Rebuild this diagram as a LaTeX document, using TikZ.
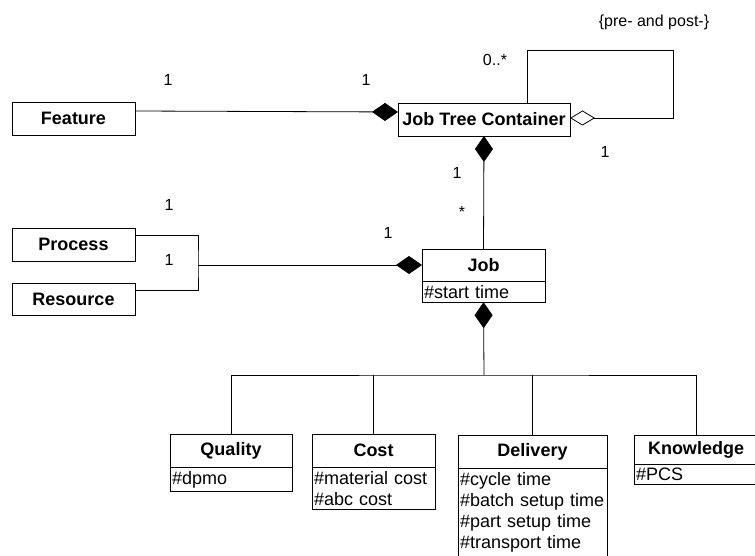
\documentclass[tikz,border=0pt]{standalone}
\usepackage{fontspec}
\setmainfont{Liberation Sans}
\usetikzlibrary{arrows.meta,positioning}

\begin{document}
\begin{tikzpicture}[x=1pt, y=-1pt, line width=0.8pt,
  every node/.style={inner sep=0pt, outer sep=0pt},
  cls/.style={draw, font=\bfseries\fontsize{18}{21}\selectfont, minimum height=33pt},
  attr/.style={draw, font=\fontsize{18}{21}\selectfont, align=left, inner xsep=2pt, inner ysep=4pt},
  mult/.style={font=\fontsize{16}{19}\selectfont},
  comp/.style={{Diamond[length=26pt, width=18pt]}-},
  aggr/.style={{Diamond[open, length=25pt, width=15pt]}-}]
  \useasboundingbox (0,0) rectangle (755,556);

  % classes
  \node[cls, minimum width=123pt] (feature) at (73.5,118.5) {Feature};
  \node[cls, minimum width=172pt] (jtc) at (484,119.5) {Job Tree Container};
  \node[cls, minimum width=123pt] (process) at (73.5,244.5) {Process};
  \node[cls, minimum width=123pt, minimum height=32pt] (resource) at (73.5,299) {Resource};
  \node[cls, minimum width=123pt, minimum height=32pt] (job) at (483.5,265) {Job};
  \node[attr, text width=119pt, below=0pt of job] (jobattr) {\#start time};

  \node[cls, minimum width=122pt] (quality) at (231,450.5) {Quality};
  \node[attr, text width=118pt, below=0pt of quality] (qualityattr) {\#dpmo};
  \node[cls, minimum width=123pt] (cost) at (373.5,450.5) {Cost};
  \node[attr, text width=119pt, below=0pt of cost] (costattr) {\#material cost\\\#abc cost};
  \node[cls, minimum width=149pt] (delivery) at (532.5,451.5) {Delivery};
  \node[attr, text width=145pt, below=0pt of delivery] (deliveryattr)
    {\#cycle time\\\#batch setup time\\\#part setup time\\\#transport time\rule[-10pt]{0pt}{10pt}};
  \node[cls, minimum width=124pt, minimum height=29pt] (knowledge) at (696,449.5) {Knowledge};
  \node[attr, text width=120pt, below=0pt of knowledge] (knowledgeattr) {\#PCS};

  % multiplicities
  \node[mult] (m1) at (168,80) {1};
  \node[mult] (m2) at (366,80) {1};
  \node[mult] (m3) at (495,60) {0..*};
  \node[mult] (m4) at (654,22) {\{pre- and post-\}};
  \node[mult] (m5) at (605,152) {1};
  \node[mult] (m6) at (457,173) {1};
  \node[mult] (m7) at (462,212) {*};
  \node[mult] (m8) at (169,205) {1};
  \node[mult] (m9) at (169,260) {1};
  \node[mult] (m10) at (388,233) {1};

  \coordinate (loop) at (673,50);
  \coordinate (jobfork) at (198,265);
  \coordinate (bus) at (484,375);

  % associations
  \draw[comp] ([yshift=7.5pt]jtc.west) -- ([yshift=7.5pt]feature.east);
  \draw[aggr] ([yshift=1.5pt]jtc.east) -| (loop) -| ([xshift=43pt]jtc.north);
  \draw[comp] (jtc.south) -- (job.north);
  \draw[comp] (job.west) -- (jobfork);
  \draw ([yshift=9.5pt]process.east) -| (jobfork) |- ([yshift=9pt]resource.east);
  \draw[comp] (jobattr.south) -- (bus);
  \draw (quality.north) |- (bus) -| (knowledge.north);
  \draw (cost.north) -- (cost.north |- bus);
  \draw (delivery.north) -- (delivery.north |- bus);
\end{tikzpicture}
\end{document}
